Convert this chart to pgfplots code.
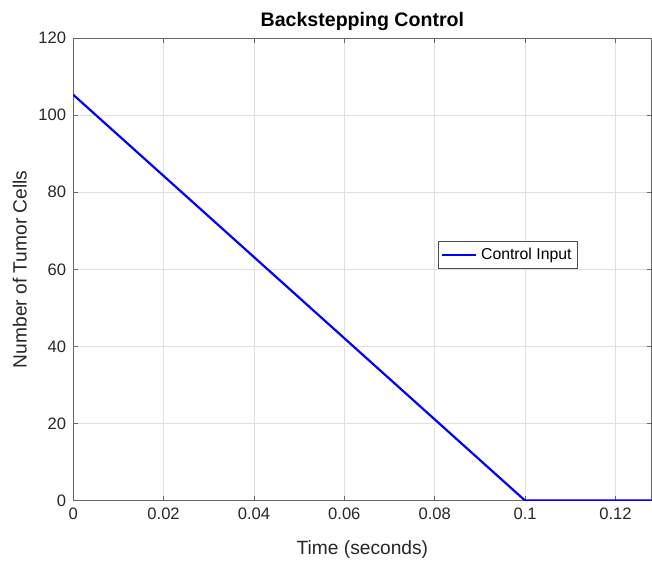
\documentclass[border=0pt]{standalone}
\usepackage{fontspec}
\setmainfont{Liberation Sans}
\usepackage{pgfplots}
\pgfplotsset{compat=1.18}

\begin{document}
\begin{tikzpicture}
\begin{axis}[
    width=289.5pt, height=231.5pt,
    scale only axis=true,
    xmin=0, xmax=0.128,
    ymin=0, ymax=120,
    xtick={0,0.02,0.04,0.06,0.08,0.1,0.12},
    xticklabels={0,0.02,0.04,0.06,0.08,0.1,0.12},
    ytick={0,20,40,60,80,100,120},
    /pgf/number format/assume math mode=true,
    tick label style={font=\fontsize{8.3}{10}\selectfont, color=black!85},
    label style={font=\fontsize{9.6}{11}\selectfont, color=black!85},
    title style={font=\fontsize{9.8}{11}\selectfont\bfseries, yshift=-6pt},
    title={Backstepping Control},
    xlabel={Time (seconds)},
    ylabel={Number of Tumor Cells},
    xlabel style={yshift=-4pt},
    ylabel style={yshift=-1pt},
    grid=major,
    major grid style={black!12, line width=0.4pt},
    axis line style={black!60, line width=0.4pt},
    tick style={black!60},
    tick align=inside,
    major tick length=2.5pt,
    legend style={at={(rel axis cs:0.752,0.531)}, anchor=center,
        font=\fontsize{7.9}{9}\selectfont, draw=black!70, line width=0.4pt,
        inner sep=1pt},
    legend cell align=left,
]
\addplot[blue, line width=1.1pt] coordinates {
    (0, 105.3) (0.1, 0) (0.128, 0)
};
\addlegendentry{Control Input}
\end{axis}
\useasboundingbox (current bounding box.south west) ++(-3pt,-1pt) rectangle ([yshift=3pt]current bounding box.north east);
\end{tikzpicture}
\end{document}
